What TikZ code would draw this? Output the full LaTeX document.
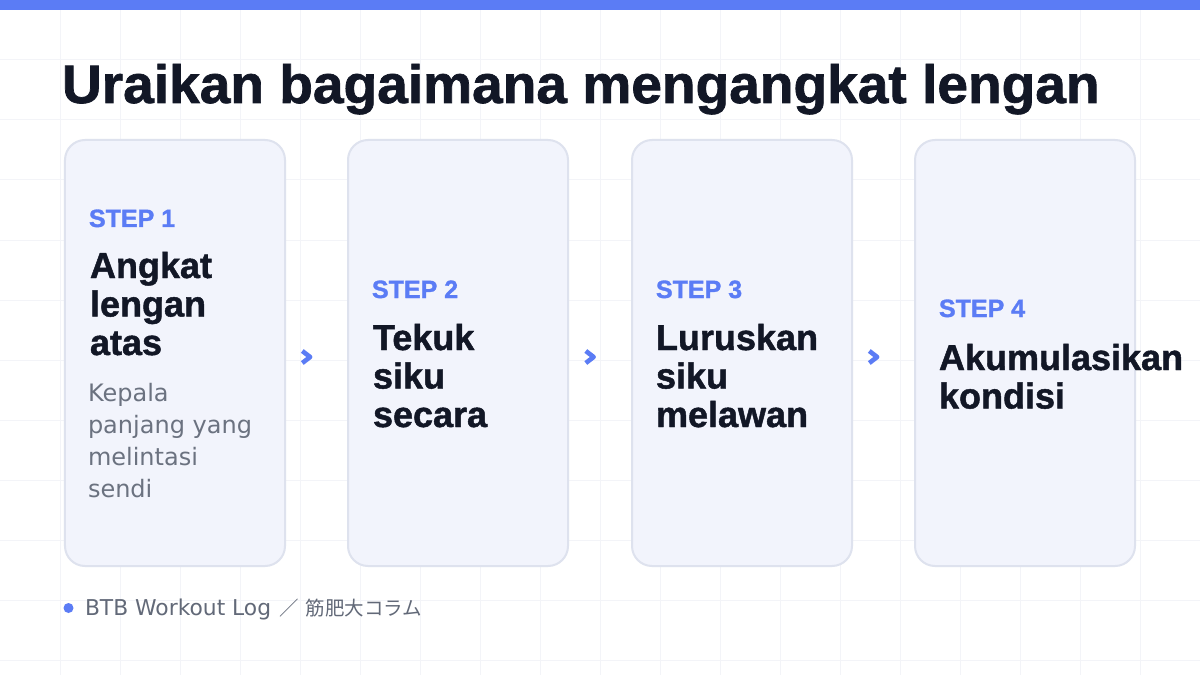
\documentclass[tikz,border=0pt]{standalone}
\usepackage{fontspec}
\setmainfont{Liberation Sans}
\newfontfamily\heavyfont[FakeBold=1.3]{Liberation Sans Bold}
\newfontfamily\titlefont[FakeBold=1.3,FakeStretch=1.02]{Liberation Sans Bold}
\newfontfamily\bodyfont{DejaVu Sans}
\newfontfamily\cjk{Noto Sans CJK JP}
\usetikzlibrary{calc}
\definecolor{titlecol}{HTML}{121726}
\definecolor{accent}{HTML}{5B7CF5}
\definecolor{bodygray}{HTML}{6B7280}
\definecolor{footgray}{HTML}{626978}
\definecolor{cardfill}{HTML}{F2F4FC}
\definecolor{cardline}{HTML}{DEE2EE}
\definecolor{gridcol}{HTML}{F3F4F8}
\tikzset{
  card/.style={draw=cardline, line width=2bp, fill=cardfill, rounded corners=20bp,
    minimum width=220bp, minimum height=426bp, inner sep=0pt},
  txt/.style={anchor=base west, inner sep=0pt, outer sep=0pt},
  steplabel/.style={txt, text=accent, font=\heavyfont\fontsize{25bp}{25bp}\selectfont},
  heading/.style={txt, text=titlecol, font=\heavyfont\fontsize{36bp}{36bp}\selectfont},
  bodytxt/.style={txt, text=bodygray, font=\bodyfont\fontsize{24bp}{24bp}\selectfont},
  chev/.style={draw=accent, line width=4.6bp, line join=round},
  gridline/.style={draw=gridcol, line width=1bp}
}
\begin{document}
\begin{tikzpicture}[x=1bp,y=-1bp]
\useasboundingbox (0,0) rectangle (1200,675);
\fill[white] (0,0) rectangle (1200,675);
% grid
\foreach \gx in {60,120,...,1140} {\draw[gridline] (\gx,0) -- (\gx,675);}
\foreach \gy in {60,120,...,660} {\draw[gridline] (0,\gy) -- (1200,\gy);}
% top bar
\fill[accent] (0,0) rectangle (1200,10);
% title
\node[txt, text=titlecol, font=\titlefont\fontsize{54bp}{54bp}\selectfont] (title) at (62,103) {Uraikan bagaimana mengangkat lengan};
% cards
\node[card] (c1) at (175,353) {};
\node[card] (c2) at (458,353) {};
\node[card] (c3) at (742,353) {};
\node[card] (c4) at (1025,353) {};
% card 1
\node[steplabel] (s1) at (89,227) {STEP 1};
\node[heading] (h1a) at (90,278) {Angkat};
\node[heading] (h1b) at (90,316.5) {lengan};
\node[heading] (h1c) at (90,355) {atas};
\node[bodytxt] (b1a) at (88,401) {Kepala};
\node[bodytxt] (b1b) at (88,433) {panjang yang};
\node[bodytxt] (b1c) at (88,465) {melintasi};
\node[bodytxt] (b1d) at (88,497) {sendi};
% card 2
\node[steplabel] (s2) at (372,298) {STEP 2};
\node[heading] (h2a) at (373,350) {Tekuk};
\node[heading] (h2b) at (373,388.5) {siku};
\node[heading] (h2c) at (373,427) {secara};
% card 3
\node[steplabel] (s3) at (656,298) {STEP 3};
\node[heading] (h3a) at (656,350) {Luruskan};
\node[heading] (h3b) at (656,388.5) {siku};
\node[heading] (h3c) at (656,427) {melawan};
% card 4
\node[steplabel] (s4) at (939,317) {STEP 4};
\node[heading] (h4a) at (939,370) {Akumulasikan};
\node[heading] (h4b) at (939,408.5) {kondisi};
% chevrons
\coordinate (k1) at ($(c1.east)!0.5!(c2.west)+(-10,4)$);
\coordinate (k2) at ($(c2.east)!0.5!(c3.west)+(-10,4)$);
\coordinate (k3) at ($(c3.east)!0.5!(c4.west)+(-10,4)$);
\foreach \k in {k1,k2,k3} {
  \draw[chev] ($(\k)+(-4.2,-6)$) -- ($(\k)+(3.6,0)$) -- ($(\k)+(-4.2,6)$);
}
% footer
\fill[accent] (68.5,608) circle (5bp);
\node[txt, text=footgray, font=\bodyfont\fontsize{21.8bp}{21.8bp}\selectfont] (foot) at (85,615) {BTB Workout Log\hspace{8bp}{\cjk\fontsize{19.5bp}{19.5bp}\selectfont ／\hspace{7bp}筋肥大コラム}};
\end{tikzpicture}
\end{document}
